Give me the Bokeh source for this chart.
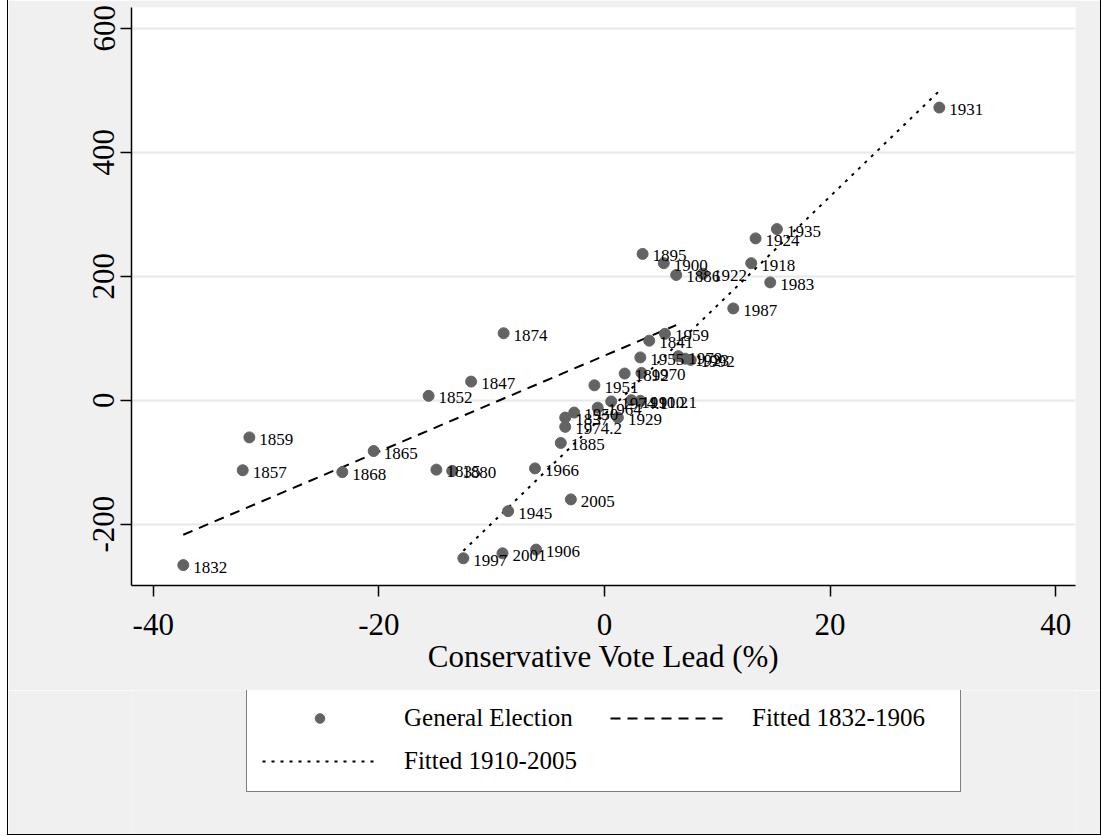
from bokeh.plotting import figure
from bokeh.layouts import column
from bokeh.models import Range1d, Legend, LegendItem, ColumnDataSource, FixedTicker
from bokeh.core.properties import value
from bokeh.embed import file_html
from bokeh.resources import INLINE

years = ["1832", "1835", "1837", "1841", "1847", "1852", "1857", "1859", "1865", "1868",
         "1874", "1880", "1885", "1886", "1892", "1895", "1900", "1906",
         "1910.1", "1910.2", "1918", "1922", "1923", "1924", "1929", "1931", "1935",
         "1945", "1950", "1951", "1955", "1959", "1964", "1966", "1970", "1974.1",
         "1974.2", "1979", "1983", "1987", "1992", "1997", "2001", "2005"]
vote_lead = [-37.34, -14.9, -3.48, 3.97, -11.82, -15.59, -32.07, -31.48, -20.46, -23.24,
             -8.94, -13.5, -3.87, 6.36, 1.79, 3.38, 5.26, -6.06,
             3.18, 2.38, 13.01, 8.74, 7.15, 13.4, 1.19, 29.69, 15.29,
             -8.54, -2.68, -0.89, 3.18, 5.36, -0.6, -6.16, 3.28, 0.6,
             -3.48, 6.55, 14.7, 11.42, 7.65, -12.51, -9.04, -2.98]
seat_lead = [-266, -112, -28, 96, 30, 7, -113, -60, -82, -116,
             108, -114, -69, 202, 43, 236, 221, -241,
             -1, 0, 221, 204, 67, 261, -28, 472, 276,
             -179, -20, 24, 69, 107, -12, -110, 44, -2,
             -43, 71, 190, 148, 65, -255, -247, -160]

fit_early_x = [-37.34, 6.36]
fit_early_y = [-217, 121]
fit_late_x = [-12.51, 29.64]
fit_late_y = [-243, 498]

x_ticks = [-40, -20, 0, 20, 40]
y_ticks = [-200, 0, 200, 400, 600]
x_title = "Conservative Vote Lead (%)"
legend_labels = ["General Election", "Fitted 1832-1906", "Fitted 1910-2005"]

SERIF = "Liberation Serif"
BG = "#f0f0f0"
DOT = "#636363"
DASH_EARLY = "10 7"
DASH_LATE = "3 6"

p = figure(width=1092, height=690, output_backend="svg", toolbar_location=None,
           x_range=Range1d(-41.93, 41.76), y_range=Range1d(-298.9, 633.4),
           min_border_left=123, min_border_right=25, min_border_top=7, min_border_bottom=105)
p.background_fill_color = "white"
p.border_fill_color = BG
p.outline_line_color = None

src = ColumnDataSource(dict(x=vote_lead, y=seat_lead, lab=years))

p.line(fit_early_x, fit_early_y, line_color="black", line_width=2, line_dash=DASH_EARLY)
p.line(fit_late_x, fit_late_y, line_color="black", line_width=2, line_dash=DASH_LATE)
p.scatter("x", "y", source=src, size=11, fill_color=DOT, line_color=DOT)
p.text("x", "y", text="lab", source=src, x_offset=10, y_offset=2, text_baseline="middle",
       text_font=value(SERIF), text_font_size="17px", text_color="black")

p.xaxis.ticker = FixedTicker(ticks=x_ticks)
p.yaxis.ticker = FixedTicker(ticks=y_ticks)
p.xaxis.major_label_overrides = {t: str(t) for t in x_ticks}
p.yaxis.major_label_overrides = {t: str(t) for t in y_ticks}
for ax in (p.xaxis, p.yaxis):
    ax.axis_line_color = "black"
    ax.axis_line_width = 1.5
    ax.major_tick_line_color = "black"
    ax.major_tick_line_width = 1.5
    ax.major_tick_in = 0
    ax.major_tick_out = 11
    ax.minor_tick_line_color = None
    ax.major_label_text_font = SERIF
    ax.major_label_text_font_size = "31px"
    ax.major_label_text_color = "black"
p.xaxis.major_label_standoff = 17
p.xaxis.axis_label = x_title
p.xaxis.axis_label_text_font = SERIF
p.xaxis.axis_label_text_font_size = "31px"
p.xaxis.axis_label_text_font_style = "normal"
p.xaxis.axis_label_text_color = "black"
p.xaxis.axis_label_standoff = 1
p.yaxis.major_label_orientation = "vertical"
p.yaxis.major_label_standoff = 6

p.xgrid.grid_line_color = None
p.ygrid.grid_line_color = "#e8e8e8"
p.ygrid.grid_line_width = 2

# legend panel below the plot (its renderers are hidden; only their legend keys show)
p2 = figure(width=1092, height=144, output_backend="svg", toolbar_location=None,
            x_range=Range1d(0, 1), y_range=Range1d(0, 1),
            x_axis_location=None, y_axis_location=None, min_border=0)
p2.background_fill_color = BG
p2.border_fill_color = BG
p2.outline_line_color = None
p2.grid.visible = False
g_pts = p2.scatter("x", "y", source=src, size=12, fill_color=DOT, line_color=DOT, visible=False)
g_fit1 = p2.line(fit_early_x, fit_early_y, line_color="black", line_width=2,
                 line_dash=DASH_EARLY, visible=False)
g_fit2 = p2.line(fit_late_x, fit_late_y, line_color="black", line_width=2,
                 line_dash=DASH_LATE, visible=False)

legend = Legend(items=[LegendItem(label=legend_labels[0], renderers=[g_pts]),
                       LegendItem(label=legend_labels[1], renderers=[g_fit1]),
                       LegendItem(label=legend_labels[2], renderers=[g_fit2])],
                orientation="horizontal", ncols=2, location=(115, 42))
legend.label_text_font = SERIF
legend.label_text_font_size = "25px"
legend.label_text_color = "black"
legend.glyph_width = 115
legend.glyph_height = 24
legend.label_standoff = 27
legend.label_width = 193
legend.label_height = 30
legend.spacing = 13
legend.padding = 15
legend.margin = 0
legend.border_line_color = "black"
legend.border_line_width = 1.5
legend.background_fill_color = "white"
legend.background_fill_alpha = 1
legend.inactive_fill_alpha = 0
legend.click_policy = "none"
p2.add_layout(legend, "center")

layout = column(p, p2, spacing=0, margin=(0, 0, 0, 7),
                styles={"border-left": "1px solid black", "border-right": "1px solid black",
                        "border-bottom": "1px solid black"})

open("out.html", "w").write(file_html(layout, INLINE))
